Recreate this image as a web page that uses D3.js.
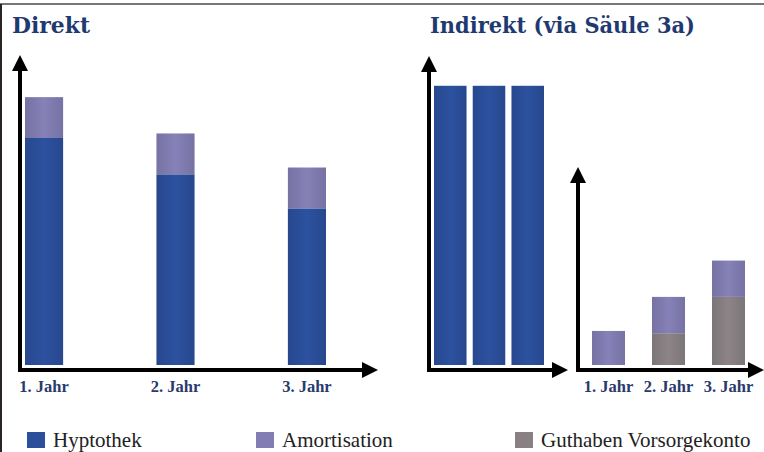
<!DOCTYPE html>
<html>
<head>
<meta charset="utf-8">
<script src="https://cdn.jsdelivr.net/npm/d3@7"></script>
<style>
  body { margin: 0; background: #fff; }
  svg { display: block; }
</style>
</head>
<body>
<div id="chart"></div>
<script>
// data
var years = ["1. Jahr", "2. Jahr", "3. Jahr"];
var direktHypothek = [100, 84, 69];
var direktAmortisation = [18, 18, 18];
var indirektHypothek = [123, 123, 123];
var indirektAmortisation = [15, 16, 16];
var indirektGuthaben = [0, 14, 30];
var legendLabels = ["Hyptothek", "Amortisation", "Guthaben Vorsorgekonto"];

var colors = {
    hypo: "#2b4f9b",
    amort: "#827db2",
    gut: "#888083"
};

var width = 764, height = 452;
var svg = d3.select("#chart").append("svg")
    .attr("width", width)
    .attr("height", height);

// subtle shading on the bars
var defs = svg.append("defs");
Object.keys(colors).forEach(function(k) {
    var g = defs.append("linearGradient").attr("id", "grad-" + k);
    var c = d3.color(colors[k]);
    g.append("stop").attr("offset", "0%").attr("stop-color", c.darker(0.25));
    g.append("stop").attr("offset", "50%").attr("stop-color", c.brighter(0.08));
    g.append("stop").attr("offset", "100%").attr("stop-color", c.darker(0.25));
});

// frame
svg.append("line").attr("x1", 0).attr("x2", width).attr("y1", 4).attr("y2", 4)
    .attr("stroke", "#777").attr("stroke-width", 2);
svg.append("line").attr("x1", 1).attr("x2", 1).attr("y1", 4).attr("y2", height)
    .attr("stroke", "#2a2422").attr("stroke-width", 2);

// titles
var titleFont = "'DejaVu Serif', serif";
svg.append("text").attr("x", 12).attr("y", 33)
    .attr("font-family", titleFont).attr("font-weight", "bold")
    .attr("font-size", 23).attr("fill", "#1f3a70")
    .attr("textLength", 78).attr("lengthAdjust", "spacingAndGlyphs")
    .text("Direkt");
svg.append("text").attr("x", 430).attr("y", 33)
    .attr("font-family", titleFont).attr("font-weight", "bold")
    .attr("font-size", 23).attr("fill", "#1f3a70")
    .attr("textLength", 265).attr("lengthAdjust", "spacingAndGlyphs")
    .text("Indirekt (via Säule 3a)");

// shared value scale
var y = d3.scaleLinear().domain([0, 125]).range([365, 81.25]);
var axisY = 370;

function arrowAxes(x0, yTop, xEnd) {
    var g = svg.append("g");
    g.append("line").attr("x1", x0).attr("x2", x0).attr("y1", yTop + 14).attr("y2", axisY + 2)
        .attr("stroke", "#000").attr("stroke-width", 4);
    g.append("path")
        .attr("d", "M" + x0 + "," + yTop + "L" + (x0 - 8) + "," + (yTop + 16) + "L" + (x0 + 8) + "," + (yTop + 16) + "Z")
        .attr("fill", "#000");
    g.append("line").attr("x1", x0 - 2).attr("x2", xEnd - 14).attr("y1", axisY).attr("y2", axisY)
        .attr("stroke", "#000").attr("stroke-width", 4);
    g.append("path")
        .attr("d", "M" + xEnd + "," + axisY + "L" + (xEnd - 16) + "," + (axisY - 8) + "L" + (xEnd - 16) + "," + (axisY + 8) + "Z")
        .attr("fill", "#000");
}

function stackedBars(x, series) {
    // series: list of {values, key}, bottom first
    var g = svg.append("g");
    var base = years.map(function() { return 0; });
    series.forEach(function(s) {
        var starts = base.slice();
        g.selectAll(null).data(years).enter().append("rect")
            .attr("x", function(d) { return x(d); })
            .attr("width", x.bandwidth())
            .attr("y", function(d, i) { return y(starts[i] + s.values[i]); })
            .attr("height", function(d, i) { return y(starts[i]) - y(starts[i] + s.values[i]); })
            .attr("fill", "url(#grad-" + s.key + ")");
        base = base.map(function(b, i) { return b + s.values[i]; });
    });
}

function yearLabels(x) {
    var ax = d3.axisBottom(x).tickSize(0).tickPadding(0);
    var g = svg.append("g").attr("transform", "translate(0," + 380 + ")").call(ax);
    g.select(".domain").remove();
    g.selectAll("text")
        .attr("font-family", "'Liberation Serif', serif")
        .attr("font-weight", "bold")
        .attr("font-size", 16.5)
        .attr("fill", "#2a3a6c");
}

// panel 1: direkt
var x1 = d3.scaleBand().domain(years).range([25, 326]).paddingInner(0.71).paddingOuter(0);
stackedBars(x1, [
    { values: direktHypothek, key: "hypo" },
    { values: direktAmortisation, key: "amort" }
]);
arrowAxes(20, 55, 378);
yearLabels(x1);

// panel 2: indirekt hypothek
var x2 = d3.scaleBand().domain(years).range([434, 544]).paddingInner(0.16).paddingOuter(0);
stackedBars(x2, [{ values: indirektHypothek, key: "hypo" }]);
arrowAxes(429, 56, 568);

// panel 3: indirekt amortisation / guthaben
var x3 = d3.scaleBand().domain(years).range([592, 745]).paddingInner(0.45).paddingOuter(0);
stackedBars(x3, [
    { values: indirektGuthaben, key: "gut" },
    { values: indirektAmortisation, key: "amort" }
]);
arrowAxes(578, 167, 764);
yearLabels(x3);

// legend
var legendX = [27, 256, 515];
var legendKeys = ["hypo", "amort", "gut"];
var leg = svg.append("g").selectAll("g").data(legendLabels).enter().append("g")
    .attr("transform", function(d, i) { return "translate(" + legendX[i] + ",432)"; });
leg.append("rect").attr("width", 18).attr("height", 16)
    .attr("fill", function(d, i) { return colors[legendKeys[i]]; });
leg.append("text").attr("x", 26).attr("y", 15)
    .attr("font-family", "'Liberation Serif', serif")
    .attr("font-size", 21).attr("fill", "#222")
    .text(function(d) { return d; });
</script>
</body>
</html>
